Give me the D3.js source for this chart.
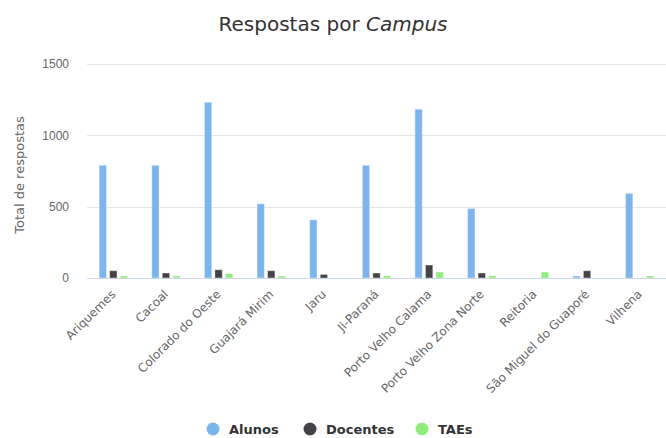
<!DOCTYPE html>
<html>
<head>
<meta charset="utf-8">
<script src="https://cdn.jsdelivr.net/npm/d3@7"></script>
<style>
  body { margin: 0; background: #fff; }
  svg { font-family: "DejaVu Sans", Verdana, sans-serif; }
</style>
</head>
<body>
<div id="chart"></div>
<script>
let campi = ['Ariquemes', 'Cacoal', 'Colorado do Oeste', 'Guajará Mirim', 'Jaru', 'Ji-Paraná',
             'Porto Velho Calama', 'Porto Velho Zona Norte', 'Reitoria', 'São Miguel do Guaporé', 'Vilhena'];
let alunos   = [790, 790, 1232, 520, 408, 790, 1183, 487, 0, 9, 593];
let docentes = [51, 35, 58, 51, 25, 35, 91, 35, 0, 51, 0];
let taes     = [11, 8, 32, 10, 0, 16, 42, 16, 42, 0, 9];
let series_names = ['Alunos', 'Docentes', 'TAEs'];
let colors = ['#7cb5ec', '#434348', '#90ed7d'];
let y_ticks = [0, 500, 1000, 1500];

let width = 666;
let height = 438;
let margin = {left: 87, right: 0, top: 64, bottom: 160};

let svg = d3.select('#chart').append('svg')
            .attr('width', width)
            .attr('height', height);

let x = d3.scaleBand()
          .domain(campi)
          .range([margin.left, width - margin.right]);
let x_inner = d3.scaleBand()
          .domain(series_names)
          .range([x.bandwidth() * 0.2, x.bandwidth() * 0.8])
          .paddingInner(0.3)
          .paddingOuter(0.15);
let y = d3.scaleLinear()
          .domain([0, 1500])
          .range([height - margin.bottom, margin.top]);

// title
let title = svg.append('text')
    .attr('x', width / 2)
    .attr('y', 31)
    .attr('text-anchor', 'middle')
    .attr('fill', '#333')
    .style('font-size', '20px');
title.append('tspan').text('Respostas por ');
title.append('tspan').style('font-style', 'italic').text('Campus');

// gridlines
svg.append('g')
    .selectAll('line')
    .data(y_ticks.slice(1))
    .join('line')
        .attr('x1', margin.left)
        .attr('x2', width - margin.right)
        .attr('y1', d => Math.round(y(d)) + 0.5)
        .attr('y2', d => Math.round(y(d)) + 0.5)
        .attr('stroke', '#e6e6e6');

// y axis
let y_axis = svg.append('g')
    .attr('transform', `translate(${margin.left - 18},0)`)
    .call(d3.axisLeft(y).tickValues(y_ticks).tickFormat(d3.format('d')).tickSize(0).tickPadding(0));
y_axis.select('.domain').remove();
y_axis.selectAll('text')
    .attr('fill', '#666')
    .style('font-size', '12px');

svg.append('text')
    .attr('transform', `translate(24,175) rotate(-90)`)
    .attr('text-anchor', 'middle')
    .attr('fill', '#666')
    .style('font-size', '13px')
    .text('Total de respostas');

// bars
let data = campi.map((c, i) => ({campus: c, values: [alunos[i], docentes[i], taes[i]]}));
svg.append('g')
    .selectAll('g')
    .data(data)
    .join('g')
        .attr('transform', d => `translate(${x(d.campus)},0)`)
    .selectAll('rect')
    .data(d => d.values.map((v, j) => ({name: series_names[j], value: v, color: colors[j]})))
    .join('rect')
        .filter(d => d.value > 0)
        .attr('x', d => x_inner(d.name))
        .attr('y', d => Math.min(y(d.value), y(0) - 2))
        .attr('width', x_inner.bandwidth())
        .attr('height', d => Math.max(y(0) - y(d.value), 2))
        .attr('fill', d => d.color)
        .attr('stroke', '#fff')
        .attr('stroke-opacity', 0.4)
        .attr('stroke-width', 1);

// x axis
svg.append('line')
    .attr('x1', margin.left)
    .attr('x2', width - margin.right)
    .attr('y1', y(0) + 0.5)
    .attr('y2', y(0) + 0.5)
    .attr('stroke', '#ccd6eb');

svg.append('g')
    .selectAll('text')
    .data(campi)
    .join('text')
        .attr('transform', d => `translate(${x(d) + x.bandwidth() / 2 + 3},${y(0) + 17}) rotate(-45)`)
        .attr('text-anchor', 'end')
        .attr('fill', '#666')
        .style('font-size', '12px')
        .text(d => d);

// legend
let legend_x = [213, 310, 422];
let legend = svg.append('g')
    .selectAll('g')
    .data(series_names)
    .join('g')
        .attr('transform', (d, i) => `translate(${legend_x[i]},429)`);
legend.append('circle')
    .attr('r', 6.5)
    .attr('fill', (d, i) => colors[i]);
legend.append('text')
    .attr('x', 16)
    .attr('y', 4.5)
    .attr('fill', '#333')
    .style('font-size', '13px')
    .style('font-weight', 'bold')
    .text(d => d);
</script>
</body>
</html>
